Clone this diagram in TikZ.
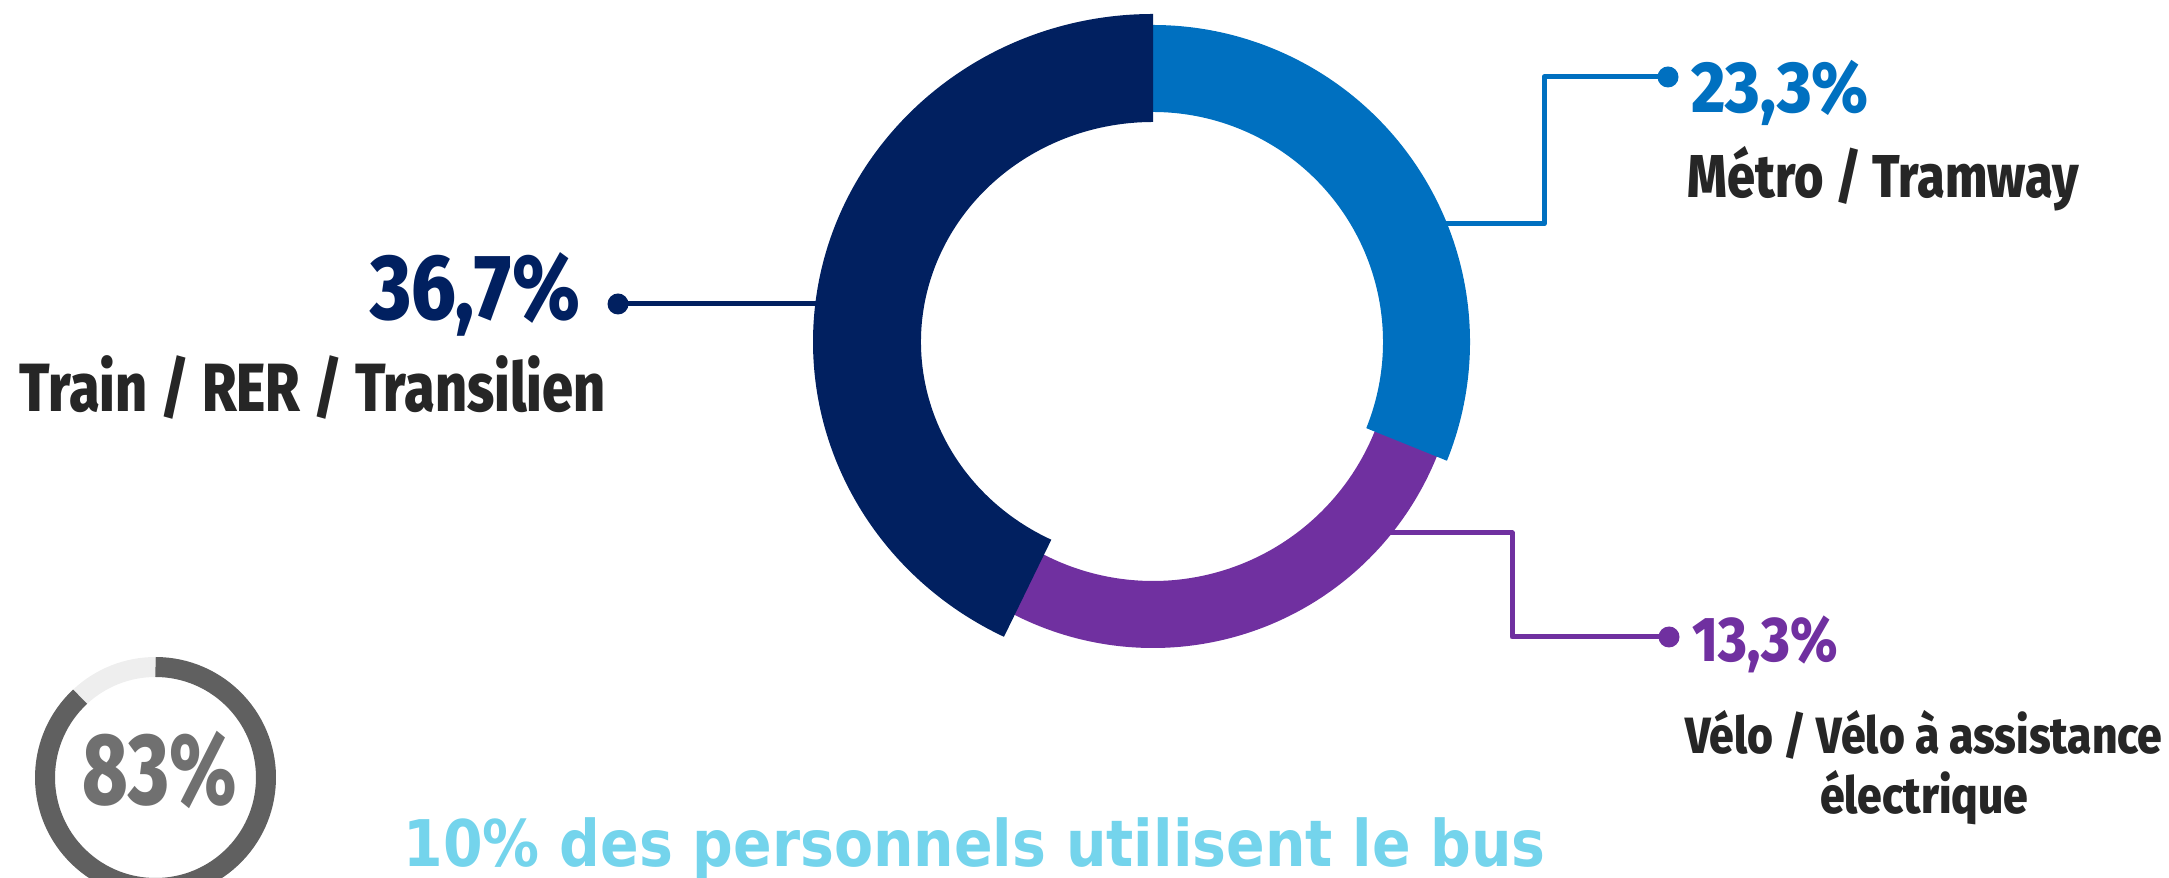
\documentclass[tikz,border=0pt]{standalone}
\usepackage{fontspec}
\usepackage{graphicx}
\setmainfont{Fira Sans}[BoldFont={* ExtraBold}]
\newfontfamily\busfont{DejaVu Sans}
\definecolor{mvNavy}{HTML}{012060}
\definecolor{mvBlue}{HTML}{0070C0}
\definecolor{mvPurple}{HTML}{7030A0}
\definecolor{mvText}{HTML}{262626}
\definecolor{mvCyan}{HTML}{74D4EC}
\definecolor{mvGrey}{HTML}{606060}
\definecolor{mvLight}{HTML}{EEEEEE}
% squeeze a label to a given width, keep its height
\newcommand{\squeeze}[2]{\resizebox{#1}{\height}{#2}}
\begin{document}
\begin{tikzpicture}[
  leader/.style={line width=0.05cm,line join=round,#1},
  ldot/.style={circle,fill=#1,inner sep=0pt,minimum size=0.21cm},
  lbl/.style={inner sep=0pt,font=\bfseries}]
  \useasboundingbox (0,0) rectangle (21.69,8.78);

  % leaders
  \node[ldot=mvNavy] (dtrain) at (6.18,5.74) {};
  \node[ldot=mvBlue] (dmetro) at (16.68,8.01) {};
  \node[ldot=mvPurple] (dvelo) at (16.69,2.41) {};
  \coordinate (rtrain) at (8.5,5.74);
  \coordinate (rmetro) at (14.2,6.54);
  \coordinate (rvelo) at (13.5,3.45);
  \draw[leader=mvNavy] (dtrain.center) -- (rtrain);
  \draw[leader=mvBlue] (rmetro) -- (15.44,6.54) -- (15.44,8.01) -- (dmetro.center);
  \draw[leader=mvPurple] (rvelo) -- (15.12,3.45) -- (15.12,2.41) -- (dvelo.center);

  % ring
  \begin{scope}[shift={(11.53,5.36)}]
    \fill[mvPurple] (-15:3.06) arc[start angle=-15,end angle=-125,radius=3.06]
      -- (-125:2.39) arc[start angle=-125,end angle=-15,radius=2.39] -- cycle;
    \fill[mvBlue] (90:3.17) arc[start angle=90,end angle=-22,radius=3.17]
      -- (-22:2.30) arc[start angle=-22,end angle=90,radius=2.30] -- cycle;
    \fill[mvNavy] (0,3.28) arc[start angle=90,end angle=244,x radius=3.40,y radius=3.28]
      -- ({2.32*cos(244)},{2.20*sin(244)})
      arc[start angle=244,end angle=90,x radius=2.32,y radius=2.20] -- cycle;
  \end{scope}

  % labels
  \node[lbl,text=mvNavy,anchor=base east] (p367) at (5.81,5.58)
    {\fontsize{26.4}{30}\selectfont\squeeze{2.10cm}{36,7\%}};
  \node[lbl,text=mvText,anchor=base west] (ltrain) at (0.19,4.66)
    {\fontsize{19.4}{22}\selectfont\squeeze{5.86cm}{Train / RER / Transilien}};
  \node[lbl,text=mvBlue,anchor=base west] (p233) at (16.91,7.65)
    {\fontsize{20.6}{24}\selectfont\squeeze{1.77cm}{23,3\%}};
  \node[lbl,text=mvText,anchor=base west] (lmetro) at (16.87,6.80)
    {\fontsize{17.2}{20}\selectfont\squeeze{3.91cm}{Métro / Tramway}};
  \node[lbl,text=mvPurple,anchor=base west] (p133) at (16.92,2.16)
    {\fontsize{18}{21}\selectfont\squeeze{1.45cm}{13,3\%}};
  \node[lbl,text=mvText,anchor=base] (lvelo) at (19.24,0.65)
    {\fontsize{14.5}{15.9}\selectfont\squeeze{4.77cm}{\begin{tabular}[b]{@{}c@{}}Vélo / Vélo à assistance\\électrique\end{tabular}}};

  % bus share
  \draw[mvLight,line width=0.2cm] (1.555,1.005) ++(90:1.105) arc[start angle=90,end angle=133,radius=1.105];
  \draw[mvGrey,line width=0.2cm] (1.555,1.005) ++(133:1.105) arc[start angle=133,end angle=450,radius=1.105];
  \node[lbl,text=mvGrey!90,anchor=base] (p83) at (1.60,0.73)
    {\fontsize{28.9}{32}\selectfont\squeeze{1.54cm}{83\%}};
  \node[lbl,text=mvCyan,anchor=base west] (lbus) at (4.03,0.11)
    {\busfont\bfseries\fontsize{18.3}{21}\selectfont\squeeze{11.42cm}{10\% des personnels utilisent le bus}};
\end{tikzpicture}
\end{document}
